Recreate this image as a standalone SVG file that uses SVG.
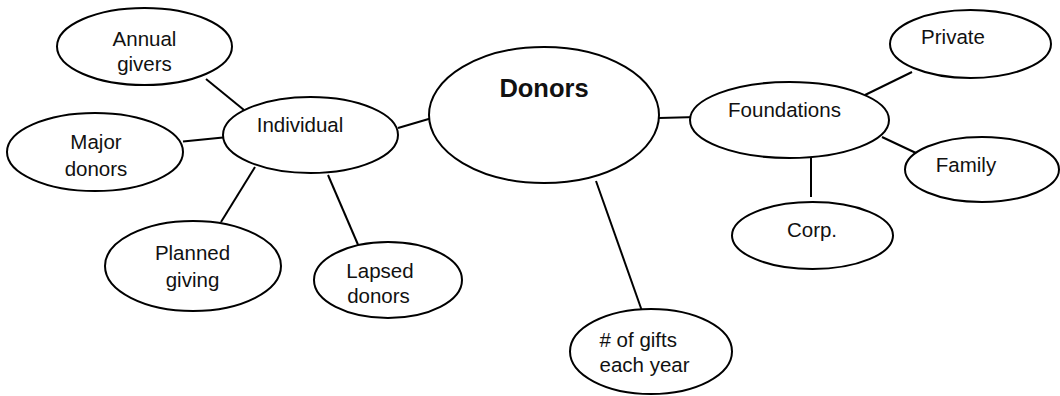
<svg xmlns="http://www.w3.org/2000/svg" width="1060" height="396" viewBox="0 0 1060 396">
  <style>
    .node ellipse { fill: #ffffff; stroke: #000000; stroke-width: 2; }
    .node text { font-family: "Liberation Sans", Arial, sans-serif; font-size: 20.5px; fill: #111111; text-anchor: middle; }
    .node text.title { font-size: 25.5px; font-weight: bold; }
    .node text.left { text-anchor: start; }
    #connectors line { stroke: #000000; stroke-width: 2; stroke-linecap: butt; }
  </style>
  <rect width="1060" height="396" fill="#ffffff"/>

  <!-- links between the concepts -->
  <g id="connectors">
    <line x1="206" y1="79" x2="244" y2="110"/>
    <line x1="183" y1="141.5" x2="223" y2="137.5"/>
    <line x1="255" y1="167" x2="221" y2="222"/>
    <line x1="328" y1="175" x2="359" y2="247"/>
    <line x1="398" y1="128" x2="432" y2="118"/>
    <line x1="659" y1="118" x2="697" y2="117"/>
    <line x1="596" y1="181" x2="642" y2="311"/>
    <line x1="865" y1="95" x2="912" y2="72"/>
    <line x1="882" y1="137" x2="916" y2="153"/>
    <line x1="811" y1="156" x2="811" y2="197"/>
  </g>

  <g id="node-donors" class="node">
    <ellipse cx="544" cy="115" rx="115" ry="68"/>
    <text class="title" x="544" y="97">Donors</text>
  </g>

  <g id="node-individual" class="node">
    <ellipse cx="310.5" cy="135" rx="87.5" ry="38"/>
    <text x="300" y="131.7">Individual</text>
  </g>

  <g id="node-annual-givers" class="node">
    <ellipse cx="144.5" cy="46.5" rx="87.5" ry="38.5"/>
    <text x="144.5" y="45.7">Annual</text>
    <text x="144.5" y="71">givers</text>
  </g>

  <g id="node-major-donors" class="node">
    <ellipse cx="95" cy="152" rx="88" ry="39"/>
    <text x="96" y="149">Major</text>
    <text x="96" y="175.7">donors</text>
  </g>

  <g id="node-planned-giving" class="node">
    <ellipse cx="193" cy="266" rx="88" ry="45"/>
    <text x="192.5" y="260">Planned</text>
    <text x="192.5" y="286.5">giving</text>
  </g>

  <g id="node-lapsed-donors" class="node">
    <ellipse cx="388" cy="280" rx="74" ry="38"/>
    <text x="380" y="277.7">Lapsed</text>
    <text x="378.5" y="303.3">donors</text>
  </g>

  <g id="node-gifts-per-year" class="node">
    <ellipse cx="651" cy="351.5" rx="81" ry="42.5"/>
    <text class="left" x="599.5" y="346.7"># of gifts</text>
    <text class="left" x="599.5" y="371.7">each year</text>
  </g>

  <g id="node-foundations" class="node">
    <ellipse cx="789.5" cy="120" rx="99.5" ry="38"/>
    <text x="784.5" y="117.3">Foundations</text>
  </g>

  <g id="node-private" class="node">
    <ellipse cx="970.5" cy="44" rx="80.5" ry="34"/>
    <text x="953" y="44.3">Private</text>
  </g>

  <g id="node-family" class="node">
    <ellipse cx="982" cy="169.5" rx="77" ry="32.5"/>
    <text x="966" y="171.7">Family</text>
  </g>

  <g id="node-corp" class="node">
    <ellipse cx="812.5" cy="235.5" rx="80.5" ry="33.5"/>
    <text x="812" y="237.3">Corp.</text>
  </g>
</svg>
